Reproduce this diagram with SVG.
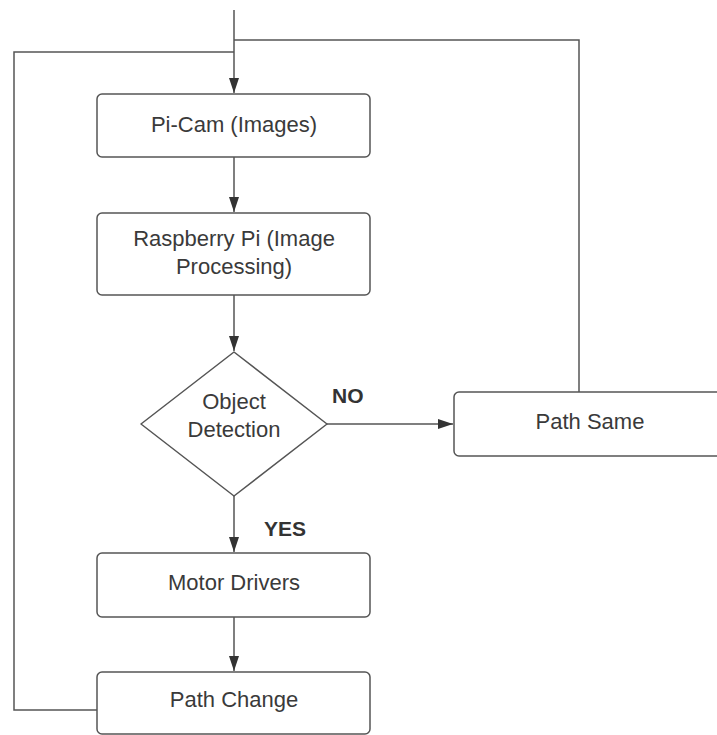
<svg xmlns="http://www.w3.org/2000/svg" width="717" height="735" viewBox="0 0 717 735">
<style>
.box{fill:#fff;stroke:#555;stroke-width:1.5}
.t{font-family:"Liberation Sans",Arial,sans-serif;font-size:22px;fill:#3a3a3a;text-anchor:middle}
.lbl{font-family:"Liberation Sans",Arial,sans-serif;font-size:21px;font-weight:bold;fill:#333}
.c{fill:none;stroke:#555;stroke-width:1.5}
</style>
<defs>
<marker id="ah" markerWidth="16" markerHeight="12" refX="15" refY="5" orient="auto" markerUnits="userSpaceOnUse">
<path d="M0,0 L15,5 L0,10 z" fill="#333"/>
</marker>
</defs>
<rect width="717" height="735" fill="#fff"/>
<g id="connectors">
<path class="c" d="M234,10 V93" marker-end="url(#ah)"/>
<path class="c" d="M579,392 V40 H234"/>
<path class="c" d="M97,710 H14 V52 H234"/>
<path class="c" d="M234,157 V212" marker-end="url(#ah)"/>
<path class="c" d="M234,295 V351" marker-end="url(#ah)"/>
<path class="c" d="M327,424 H453" marker-end="url(#ah)"/>
<path class="c" d="M234,496 V552" marker-end="url(#ah)"/>
<path class="c" d="M234,617 V671" marker-end="url(#ah)"/>
</g>
<g id="picam">
<rect class="box" x="97" y="94" width="273" height="63" rx="5"/>
<text class="t" x="234" y="132">Pi-Cam (Images)</text>
</g>
<g id="raspberry">
<rect class="box" x="97" y="213" width="273" height="82" rx="5"/>
<text class="t" x="234" y="246">Raspberry Pi (Image</text>
<text class="t" x="234" y="274">Processing)</text>
</g>
<g id="detection">
<path class="box" d="M234,352 L327,424 L234,496 L141,424 Z" stroke-linejoin="round"/>
<text class="t" x="234" y="409">Object</text>
<text class="t" x="234" y="437">Detection</text>
</g>
<g id="pathsame">
<rect class="box" x="454" y="392" width="280" height="64" rx="5"/>
<text class="t" x="590" y="429">Path Same</text>
</g>
<g id="motor">
<rect class="box" x="97" y="553" width="273" height="64" rx="5"/>
<text class="t" x="234" y="590">Motor Drivers</text>
</g>
<g id="pathchange">
<rect class="box" x="97" y="672" width="273" height="62" rx="5"/>
<text class="t" x="234" y="707">Path Change</text>
</g>
<g id="labels">
<text class="lbl" x="332" y="403">NO</text>
<text class="lbl" x="264" y="536">YES</text>
</g>
</svg>
